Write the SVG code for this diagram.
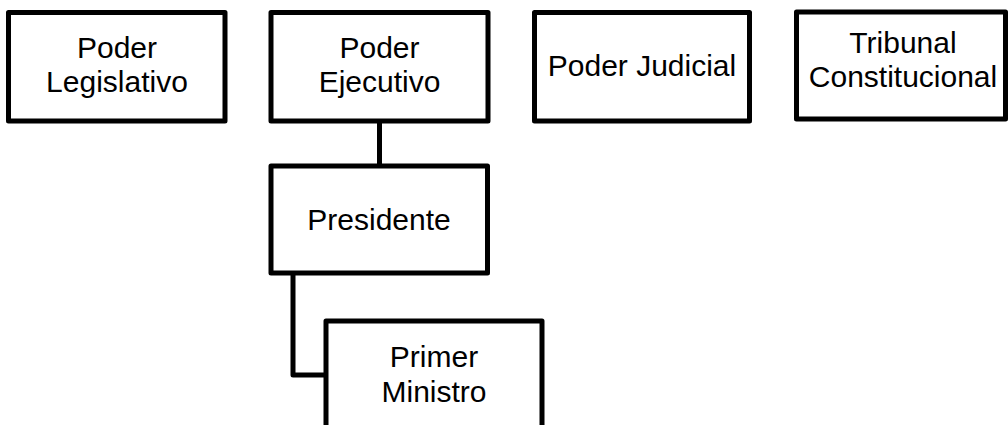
<svg xmlns="http://www.w3.org/2000/svg" width="1008" height="425" viewBox="0 0 1008 425">
  <style>
    .box { fill: #ffffff; stroke: #000000; stroke-width: 5; stroke-linejoin: round; }
    .conn { fill: none; stroke: #000000; stroke-width: 5; stroke-linejoin: round; }
    .lbl { font-family: "Liberation Sans", Arial, sans-serif; font-size: 30px; fill: #000000; text-anchor: middle; }
  </style>
  <rect width="1008" height="425" fill="#ffffff"/>
  <g id="connectors">
    <path class="conn" d="M379.5,121 V166"/>
    <path class="conn" d="M293,273 V375 H326"/>
  </g>
  <g id="poder-legislativo">
    <rect class="box" x="8.5" y="12.5" width="216.5" height="108.5"/>
    <text class="lbl" x="117" y="58"><tspan x="117">Poder</tspan><tspan x="117" dy="34">Legislativo</tspan></text>
  </g>
  <g id="poder-ejecutivo">
    <rect class="box" x="271" y="12.5" width="217" height="108.5"/>
    <text class="lbl" x="379.5" y="58"><tspan x="379.5">Poder</tspan><tspan x="379.5" dy="34">Ejecutivo</tspan></text>
  </g>
  <g id="poder-judicial">
    <rect class="box" x="534.5" y="12.5" width="215" height="108.5"/>
    <text class="lbl" x="642" y="76">Poder Judicial</text>
  </g>
  <g id="tribunal-constitucional">
    <rect class="box" x="796.5" y="12" width="209" height="107"/>
    <text class="lbl" x="903" y="53"><tspan x="903">Tribunal</tspan><tspan x="903" dy="34">Constitucional</tspan></text>
  </g>
  <g id="presidente">
    <rect class="box" x="271" y="166" width="216.5" height="107"/>
    <text class="lbl" x="379" y="230">Presidente</text>
  </g>
  <g id="primer-ministro">
    <rect class="box" x="326" y="321" width="216" height="150"/>
    <text class="lbl" x="434" y="367"><tspan x="434">Primer</tspan><tspan x="434" dy="35">Ministro</tspan></text>
  </g>
</svg>
